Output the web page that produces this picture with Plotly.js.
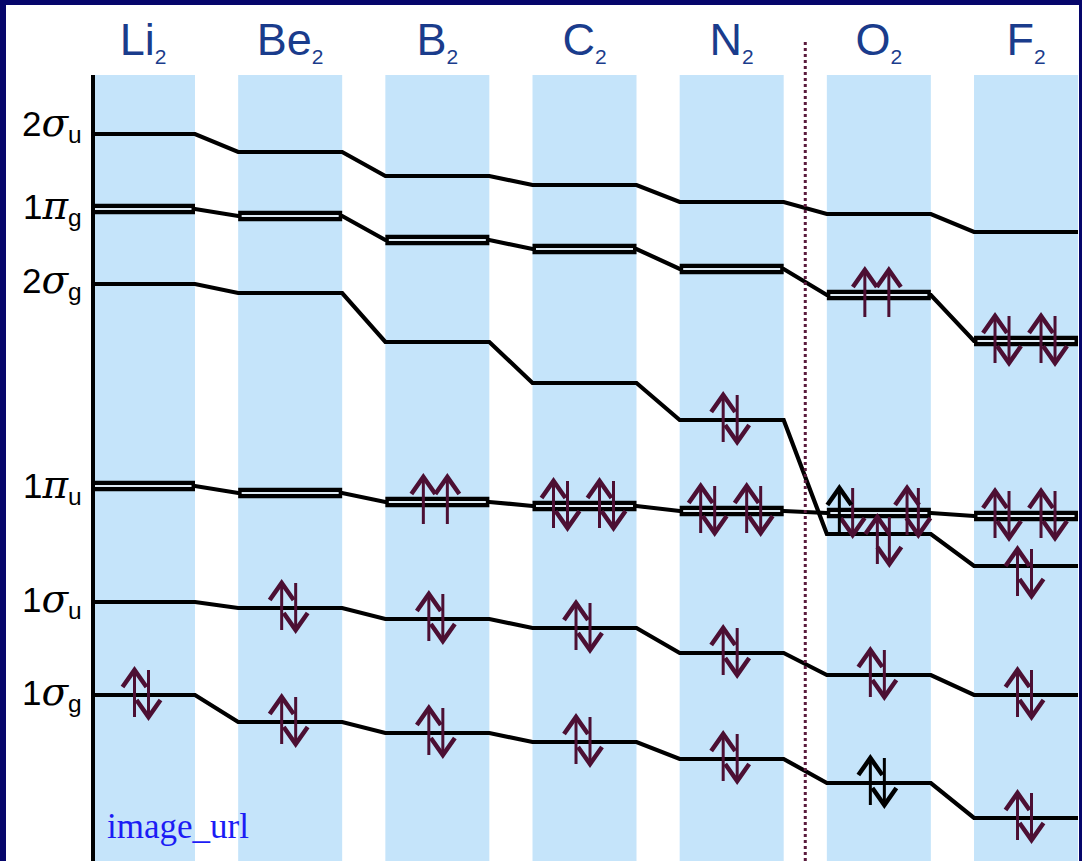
<!DOCTYPE html>
<html><head><meta charset="utf-8">
<script src="https://cdn.plot.ly/plotly-3.0.1.min.js"></script>
<style>
html,body{margin:0;padding:0;background:#06066b;width:1082px;height:861px;overflow:hidden;}
#chart{position:absolute;left:6px;top:5px;width:1073px;height:856px;background:#ffffff;}
</style></head>
<body><div id="chart"></div>
<script>
// ---------------- DATA ----------------
const molecules = ["Li2", "Be2", "B2", "C2", "N2", "O2", "F2"];
const moleculeLabels = ["Li", "Be", "B", "C", "N", "O", "F"];
const orbitalNames = ["2σu", "1πg", "2σg", "1πu", "1σu", "1σg"];
const orbitalNum = ["2", "1", "2", "1", "1", "1"];
const orbitalSym = ["σ", "π", "σ", "π", "σ", "σ"];
const orbitalSub = ["u", "g", "g", "u", "u", "g"];

// relative orbital energies (arbitrary units), one value per molecule
const E_2su = [72.7, 70.9, 68.5, 67.6, 65.9, 64.7, 62.9];
const E_1pg = [65.2, 64.5, 62.1, 61.2, 59.2, 56.6, 52.0];
const E_2sg = [57.7, 56.8, 51.9, 47.8, 44.1, 32.7, 29.5];
const E_1pu = [37.5, 36.8, 35.9, 35.5, 35.0, 34.8, 34.5];
const E_1su = [25.9, 25.3, 24.2, 23.3, 20.8, 18.6, 16.6];
const E_1sg = [16.6, 13.9, 12.8, 11.9, 10.2, 7.8, 4.3];

// electron occupancy: u = spin up, d = spin down
const occ_2su = ["", "", "", "", "", "", ""];
const occ_1pg = ["", "", "", "", "", "uu", "udud"];
const occ_2sg = ["", "", "", "", "ud", "ud", "ud"];
const occ_1pu = ["", "", "uu", "udud", "udud", "udud", "udud"];
const occ_1su = ["", "ud", "ud", "ud", "ud", "ud", "ud"];
const occ_1sg = ["ud", "ud", "ud", "ud", "ud", "ud", "ud"];

// ---------------- STYLE / GEOMETRY ----------------
const FIG_W = 1073, FIG_H = 856;
const M = {l: 89, r: 0, t: 70, b: 0};
const PLOT_W = FIG_W - M.l - M.r, PLOT_H = FIG_H - M.t - M.b;
const PX_PER_X = 147.17;                 // px per category step
const X_MIN = -48 / PX_PER_X;
const X_MAX = X_MIN + PLOT_W / PX_PER_X;
const Y_MIN = 0, Y_MAX = 78.6;
const PX_PER_Y = PLOT_H / (Y_MAX - Y_MIN);
const COL_HALF = 52 / PX_PER_X;          // half width of the shaded columns
const COL_COLOR = "#c5e4fa";
const LINE_COLOR = "#000000";
const GAP_COLOR = "#dde9f2";
const ARROW_COLOR = "#4c0f33";
const NAVY_TEXT = "#1a3c8c";
const LABEL_NUDGE = [10, 2, 3, 0, 2, 2];  // px, vertical nudge of the orbital labels

const ARROW = {top: 25, bottom: 22, headW: 12, headH: 17, shaftW: 3, headLW: 4.5};
const OFFSETS = {ud: [-8.5, 5.5], uu: [-14, 10], udud: [-31, -17, 15, 29]};
// special arrangements used in the drawing
const SPECIAL = {
  "5|1πu": {x: [-39.5, -26.2, 28.2, 39.5]},
  "5|2σg": {x: [-1.5, 10.5], v: 8},
  "6|2σg": {v: 8}
};
const BLACK_ELECTRONS = {"5|1σg": [0, 1], "5|1πu": [0]};

const orbitals = [
  {name: "2σu", E: E_2su, occ: occ_2su, pi: false},
  {name: "1πg", E: E_1pg, occ: occ_1pg, pi: true},
  {name: "2σg", E: E_2sg, occ: occ_2sg, pi: false},
  {name: "1πu", E: E_1pu, occ: occ_1pu, pi: true},
  {name: "1σu", E: E_1su, occ: occ_1su, pi: false},
  {name: "1σg", E: E_1sg, occ: occ_1sg, pi: false}
];

const dx = px => px / PX_PER_X;
const dy = px => px / PX_PER_Y;

const traces = [];
// level lines with connectors
orbitals.forEach(o => {
  const xs = [], ys = [];
  o.E.forEach((e, i) => { xs.push(i - COL_HALF, i + COL_HALF); ys.push(e, e); });
  traces.push({type: "scatter", mode: "lines", x: xs, y: ys, hoverinfo: "skip",
    line: {color: LINE_COLOR, width: 4.2}, showlegend: false});
});
// degenerate (double) levels
orbitals.filter(o => o.pi).forEach(o => {
  const xs = [], ys = [], xi = [], yi = [];
  o.E.forEach((e, i) => {
    xs.push(i - COL_HALF, i + COL_HALF, null); ys.push(e, e, null);
    xi.push(i - COL_HALF + dx(3.5), i + COL_HALF - dx(3.5), null); yi.push(e, e, null);
  });
  traces.push({type: "scatter", mode: "lines", x: xs, y: ys, hoverinfo: "skip",
    line: {color: LINE_COLOR, width: 10.5}, showlegend: false});
  traces.push({type: "scatter", mode: "lines", x: xi, y: yi, hoverinfo: "skip",
    line: {color: GAP_COLOR, width: 2.2}, showlegend: false});
});
// electrons
const bucket = {};
function getB(color) {
  if (!bucket[color]) bucket[color] = {sx: [], sy: [], hx: [], hy: []};
  return bucket[color];
}
orbitals.forEach(o => {
  o.occ.forEach((pat, i) => {
    if (!pat) return;
    const key = i + "|" + o.name;
    const sp = SPECIAL[key] || {};
    const offs = sp.x || OFFSETS[pat];
    const v = sp.v || 0;
    const blacks = BLACK_ELECTRONS[key] || [];
    const e = o.E[i];
    const yTop = e + dy(ARROW.top - v), yBot = e - dy(ARROW.bottom + v);
    pat.split("").forEach((s, k) => {
      const x = i + dx(offs[k]);
      const b = getB(blacks.indexOf(k) >= 0 ? "#000000" : ARROW_COLOR);
      b.sx.push(x, x, null); b.sy.push(yBot, yTop, null);
      b.hx.push(x - dx(ARROW.headW), x, x + dx(ARROW.headW), null);
      if (s === "u") {
        b.hy.push(yTop - dy(ARROW.headH), yTop, yTop - dy(ARROW.headH), null);
      } else {
        b.hy.push(yBot + dy(ARROW.headH), yBot, yBot + dy(ARROW.headH), null);
      }
    });
  });
});
Object.keys(bucket).forEach(c => {
  const b = bucket[c];
  traces.push({type: "scatter", mode: "lines", x: b.sx, y: b.sy, hoverinfo: "skip",
    line: {color: c, width: ARROW.shaftW}, showlegend: false});
  traces.push({type: "scatter", mode: "lines", x: b.hx, y: b.hy, hoverinfo: "skip",
    line: {color: c, width: ARROW.headLW}, showlegend: false});
});

// columns and the N2 / O2 separator
const shapes = molecules.map((m, i) => ({
  type: "rect", xref: "x", yref: "paper", x0: i - COL_HALF, x1: i + COL_HALF, y0: 0, y1: 1,
  fillcolor: COL_COLOR, line: {width: 0}, layer: "below"
}));
const SEP_X = (molecules.indexOf("N2") + molecules.indexOf("O2")) / 2;
shapes.push({type: "line", xref: "x", yref: "paper", x0: SEP_X, x1: SEP_X,
  y0: 0, y1: 1 + 33 / PLOT_H, line: {color: "#5a1a3c", width: 3, dash: "3px,3px"}, layer: "above"});

const annotations = orbitals.map((o, j) => ({
  xref: "paper", yref: "y", x: 0, y: o.E[0], xanchor: "right", yanchor: "middle",
  xshift: -11, yshift: LABEL_NUDGE[j], showarrow: false,
  font: {family: "Liberation Sans", size: 35, color: "#000"},
  text: orbitalNum[j] + "<span style='font-family:DejaVu Serif;font-style:italic;font-size:39px'>" +
        orbitalSym[j] + "</span><sub>" + orbitalSub[j] + "</sub>"
}));
annotations.push({xref: "paper", yref: "paper", x: 10 / PLOT_W, y: 35 / PLOT_H, xanchor: "left",
  yanchor: "middle", showarrow: false, text: "image_url",
  font: {family: "Liberation Serif", size: 35, color: "#1c1cf5"}});

const layout = {
  width: FIG_W, height: FIG_H, margin: M, paper_bgcolor: "#ffffff", plot_bgcolor: "#ffffff",
  showlegend: false,
  xaxis: {range: [X_MIN, X_MAX], side: "top", tickvals: molecules.map((m, i) => i),
    ticktext: moleculeLabels.map(s => s + "<sub><span style='font-size:21px'>2</span></sub>"),
    tickfont: {family: "Liberation Sans", size: 45, color: NAVY_TEXT},
    ticks: "", ticklabelstandoff: 10, showgrid: false, zeroline: false, showline: false, fixedrange: true},
  yaxis: {range: [Y_MIN, Y_MAX], showticklabels: false, ticks: "", showgrid: false, zeroline: false,
    showline: true, linewidth: 4.5, linecolor: "#000", fixedrange: true},
  shapes: shapes, annotations: annotations
};
Plotly.newPlot("chart", traces, layout, {staticPlot: true});
</script>
</body></html>
